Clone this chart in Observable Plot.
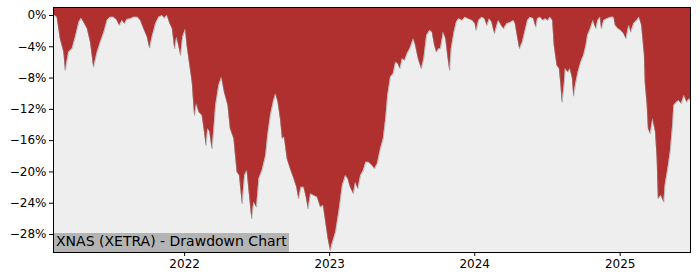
<!DOCTYPE html>
<html><head><meta charset="utf-8">
<script src="https://cdn.jsdelivr.net/npm/d3@7"></script>
<script src="https://cdn.jsdelivr.net/npm/@observablehq/plot@0.6"></script>
<style>
body{margin:0;background:#fff;}
#wrap{position:relative;width:700px;height:280px;}
#label{position:absolute;z-index:2;left:54px;top:233px;height:19px;line-height:19px;background:#b4b4b4;font:14px "DejaVu Sans";padding:0 2px;color:#000;white-space:nowrap}
</style></head><body>
<div id="wrap"><div id="label">XNAS (XETRA) - Drawdown Chart</div></div>
<script>
const dates = [
"2021-02-05","2021-02-08","2021-02-14","2021-02-22","2021-03-03","2021-03-07","2021-03-15","2021-03-24","2021-04-01","2021-04-10","2021-04-16","2021-04-22","2021-05-01","2021-05-09","2021-05-17","2021-05-26","2021-06-03","2021-06-12","2021-06-20","2021-06-28","2021-07-07","2021-07-15","2021-07-21","2021-07-28","2021-08-03","2021-08-09","2021-08-18","2021-08-26","2021-09-05","2021-09-12","2021-09-20","2021-09-29","2021-10-05","2021-10-11","2021-10-20","2021-10-28","2021-11-06","2021-11-11","2021-11-18","2021-11-25","2021-12-01","2021-12-07","2021-12-12","2021-12-17","2021-12-22","2021-12-27",
"2022-01-03","2022-01-07","2022-01-14","2022-01-20","2022-01-26","2022-01-31","2022-02-06","2022-02-14","2022-02-20","2022-02-24","2022-02-28","2022-03-05","2022-03-11","2022-03-15","2022-03-20","2022-03-28","2022-04-04","2022-04-11","2022-04-20","2022-04-26","2022-05-05","2022-05-13","2022-05-19","2022-05-26","2022-06-01","2022-06-07","2022-06-14","2022-06-19","2022-06-24","2022-07-01","2022-07-07","2022-07-15","2022-07-24","2022-07-29","2022-08-05","2022-08-12","2022-08-18","2022-08-24","2022-08-30","2022-09-04","2022-09-09","2022-09-16","2022-09-24","2022-10-03","2022-10-10","2022-10-15","2022-10-21","2022-10-28","2022-11-03","2022-11-08","2022-11-14","2022-11-22","2022-12-01","2022-12-09","2022-12-16","2022-12-22","2022-12-28",
"2023-01-03","2023-01-06","2023-01-16","2023-01-24","2023-02-02","2023-02-10","2023-02-16","2023-02-22","2023-03-02","2023-03-07","2023-03-13","2023-03-20","2023-03-27","2023-04-02","2023-04-09","2023-04-18","2023-04-24","2023-05-01","2023-05-09","2023-05-16","2023-05-22","2023-05-27","2023-06-03","2023-06-10","2023-06-16","2023-06-22","2023-06-27","2023-07-03","2023-07-09","2023-07-15","2023-07-22","2023-07-31","2023-08-05","2023-08-12","2023-08-20","2023-08-26","2023-09-02","2023-09-10","2023-09-16","2023-09-22","2023-09-27","2023-10-03","2023-10-07","2023-10-14","2023-10-20","2023-10-26","2023-10-30","2023-11-03","2023-11-10","2023-11-16","2023-11-22","2023-12-01","2023-12-08","2023-12-15","2023-12-26",
"2024-01-02","2024-01-05","2024-01-11","2024-01-19","2024-01-26","2024-02-01","2024-02-07","2024-02-13","2024-02-20","2024-02-26","2024-03-01","2024-03-08","2024-03-14","2024-03-22","2024-04-01","2024-04-08","2024-04-12","2024-04-17","2024-04-23","2024-04-30","2024-05-06","2024-05-13","2024-05-20","2024-05-28","2024-06-03","2024-06-07","2024-06-14","2024-06-21","2024-06-27","2024-07-03","2024-07-09","2024-07-15","2024-07-19","2024-07-26","2024-08-01","2024-08-05","2024-08-08","2024-08-13","2024-08-16","2024-08-23","2024-08-28","2024-09-03","2024-09-06","2024-09-11","2024-09-17","2024-09-24","2024-10-01","2024-10-07","2024-10-11","2024-10-18","2024-10-25","2024-11-01","2024-11-06","2024-11-12","2024-11-15","2024-11-21","2024-11-29","2024-12-09","2024-12-16","2024-12-20","2024-12-27",
"2025-01-03","2025-01-10","2025-01-16","2025-01-21","2025-01-24","2025-01-28","2025-02-04","2025-02-12","2025-02-18","2025-02-24","2025-03-03","2025-03-05","2025-03-10","2025-03-13","2025-03-18","2025-03-24","2025-03-31","2025-04-04","2025-04-07","2025-04-14","2025-04-21","2025-04-24","2025-05-01","2025-05-07","2025-05-13","2025-05-16","2025-05-23","2025-05-29","2025-06-04","2025-06-11","2025-06-18","2025-06-24","2025-06-27"
];
const drawdown = [
0,0,-0.22,-2.98,-4.69,-7.03,-4.69,-4.26,-2.77,-0.86,-0.35,-0.86,-1.70,-3.41,-6.61,-4.69,-3.41,-2.14,-0.64,-0.22,-0.22,-0.64,-1.28,-0.64,-1.06,-0.51,-0.42,-0.22,-0.22,-0.64,-1.70,-2.77,-4.18,-2.77,-1.06,-0.22,0,-0.35,0,-1.06,-1.70,-4.26,-2.77,-3.84,-5.12,-2.77,
-1.79,-3.84,-6.39,-8.53,-12.79,-11.29,-12.37,-12.79,-14.92,-16.62,-14.49,-14.83,-17.05,-14.92,-11.51,-8.95,-7.89,-9.81,-11.51,-14.49,-15.77,-20.04,-20.46,-24.08,-20.46,-19.82,-23.44,-26.00,-23.87,-24.51,-20.88,-19.82,-17.90,-15.35,-12.79,-11.09,-10.01,-11.09,-13.21,-15.77,-15.56,-18.32,-19.60,-20.88,-21.96,-23.44,-21.96,-21.96,-23.24,-24.72,-22.80,-23.02,-23.24,-24.51,-24.30,-26.43,-28.55,
-30.05,-29.41,-27.71,-25.15,-21.74,-20.46,-20.88,-21.96,-22.80,-21.32,-22.16,-20.46,-19.82,-18.76,-18.76,-19.18,-19.60,-18.96,-17.05,-15.77,-13.21,-10.23,-7.89,-7.46,-5.97,-6.18,-6.82,-5.54,-5.75,-4.90,-4.26,-2.98,-3.84,-5.54,-6.82,-5.54,-2.56,-1.92,-2.14,-3.84,-4.69,-4.26,-4.26,-2.14,-2.98,-5.54,-7.03,-4.26,-2.14,-0.86,-0.42,-0.64,-0.22,-0.42,-0.64,
-1.06,-1.92,-0.64,-0.22,-0.42,-1.28,-0.42,-0.86,-2.34,-1.28,-0.64,-1.28,-1.70,-1.06,-0.86,-0.64,-1.06,-2.56,-4.26,-3.41,-2.14,-0.64,-0.22,-0.42,-1.50,-0.42,-0.22,-0.64,-0.42,-0.64,-0.22,-0.64,-3.84,-6.39,-6.82,-8.95,-11.09,-8.95,-6.82,-7.25,-6.82,-8.09,-10.32,-8.73,-7.25,-5.97,-5.12,-3.84,-2.56,-1.70,-0.64,-1.70,-0.64,-0.22,-1.70,-0.64,-0.42,-0.22,-0.22,-1.28,-1.70,
-1.92,-2.34,-2.98,-1.70,-1.28,-2.14,-1.06,-0.64,-0.22,-1.28,-5.12,-8.53,-11.51,-14.49,-15.13,-13.21,-14.92,-18.32,-23.44,-23.02,-23.87,-21.74,-19.60,-17.48,-14.07,-11.51,-11.09,-10.87,-11.29,-10.23,-11.09,-10.65,-10.87
];
const yTicks = [0,-4,-8,-12,-16,-20,-24,-28];
const xTickYears = ["2022","2023","2024","2025"];
const xDomain = ["2021-02-05","2025-06-27"];
const yDomain = [-30.3, 1.02];

const parse = d3.utcParse("%Y-%m-%d");
const data = dates.map((d,i) => ({date: parse(d), dd: drawdown[i]}));
const fmt = v => (v < 0 ? "\u2212" : "") + Math.abs(v) + "%";

const chart = Plot.plot({
  width: 700, height: 280,
  marginLeft: 53, marginRight: 10, marginTop: 7, marginBottom: 28,
  style: {fontFamily: "DejaVu Sans", fontSize: "12px", color: "#000", background: "#fff", overflow: "visible"},
  x: {type: "utc", domain: xDomain.map(parse), ticks: xTickYears.map(y => parse(y + "-01-01")), tickFormat: d3.utcFormat("%Y"), tickSize: 4, tickPadding: 3, label: null},
  y: {domain: yDomain, ticks: yTicks, tickFormat: fmt, tickSize: 4, tickPadding: 3, label: null},
  marks: [
    Plot.frame({fill: "#eeeeee"}),
    Plot.areaY(data, {x: "date", y1: "dd", y2: yDomain[1], fill: "#b03030"}),
    Plot.lineY(data, {x: "date", y: "dd", stroke: "#888", strokeWidth: 0.8, strokeOpacity: 0.6}),
    Plot.frame({stroke: "#000", strokeWidth: 1})
  ]
});
document.getElementById("wrap").appendChild(chart);
</script>
</body></html>
